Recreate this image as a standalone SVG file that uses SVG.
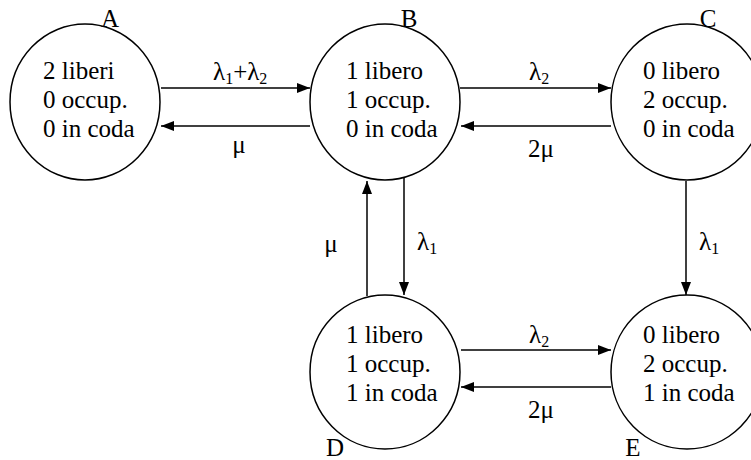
<svg xmlns="http://www.w3.org/2000/svg" width="751" height="460" viewBox="0 0 751 460" font-family="'Liberation Serif', 'Times New Roman', Times, serif">
<style>
text{font-family:'Liberation Serif','Times New Roman',Times,serif;font-size:25px;fill:#000}
.lab{text-anchor:middle}
.sub{font-size:16px}
ellipse{fill:#fff;stroke:#000;stroke-width:1.5}
.c line{stroke:#000;stroke-width:1.5}
</style>
<defs>
<marker id="ah" markerWidth="13" markerHeight="10" refX="13" refY="5" orient="auto" markerUnits="userSpaceOnUse">
<path d="M0,0 L13,5 L0,10 Z" fill="#000"/>
</marker>
</defs>
<rect width="751" height="460" fill="#fff"/>
<g id="connectors" class="c">
<line x1="161" y1="88" x2="310" y2="88" marker-end="url(#ah)"/>
<line x1="310" y1="126" x2="161" y2="126" marker-end="url(#ah)"/>
<line x1="460" y1="88" x2="611" y2="88" marker-end="url(#ah)"/>
<line x1="611" y1="126" x2="461" y2="126" marker-end="url(#ah)"/>
<line x1="404" y1="178" x2="404" y2="295" marker-end="url(#ah)"/>
<line x1="367" y1="296" x2="367" y2="181" marker-end="url(#ah)"/>
<line x1="686" y1="181" x2="686" y2="295" marker-end="url(#ah)"/>
<line x1="461" y1="350" x2="611" y2="350" marker-end="url(#ah)"/>
<line x1="611" y1="387" x2="461" y2="387" marker-end="url(#ah)"/>
<text x="213" y="80">λ<tspan class="sub" dy="4">1</tspan><tspan dy="-4">+λ</tspan><tspan class="sub" dy="4">2</tspan></text>
<text x="239" y="153" class="lab">μ</text>
<text x="529" y="80">λ<tspan class="sub" dy="4">2</tspan></text>
<text x="541" y="157" class="lab">2μ</text>
<text x="331" y="252" class="lab">μ</text>
<text x="417" y="250">λ<tspan class="sub" dy="4">1</tspan></text>
<text x="699" y="250">λ<tspan class="sub" dy="4">1</tspan></text>
<text x="529" y="343">λ<tspan class="sub" dy="4">2</tspan></text>
<text x="541" y="418" class="lab">2μ</text>
</g>
<g id="A">
<ellipse cx="85" cy="102" rx="75" ry="78"/>
<text x="110" y="27" class="lab">A</text>
<text x="43" y="79">2 liberi</text>
<text x="43" y="108">0 occup.</text>
<text x="43" y="137">0 in coda</text>
</g>
<g id="B">
<ellipse cx="385" cy="102" rx="75" ry="78"/>
<text x="409" y="27" class="lab">B</text>
<text x="346" y="79">1 libero</text>
<text x="346" y="108">1 occup.</text>
<text x="346" y="137">0 in coda</text>
</g>
<g id="C">
<ellipse cx="687" cy="102" rx="76" ry="78"/>
<text x="708" y="27" class="lab">C</text>
<text x="643" y="79">0 libero</text>
<text x="643" y="108">2 occup.</text>
<text x="643" y="137">0 in coda</text>
</g>
<g id="D">
<ellipse cx="385" cy="372" rx="75" ry="77"/>
<text x="335" y="456" class="lab">D</text>
<text x="346" y="343">1 libero</text>
<text x="346" y="372">1 occup.</text>
<text x="346" y="401">1 in coda</text>
</g>
<g id="E">
<ellipse cx="687" cy="372" rx="76" ry="77"/>
<text x="633" y="456" class="lab">E</text>
<text x="643" y="343">0 libero</text>
<text x="643" y="372">2 occup.</text>
<text x="643" y="401">1 in coda</text>
</g>
</svg>
